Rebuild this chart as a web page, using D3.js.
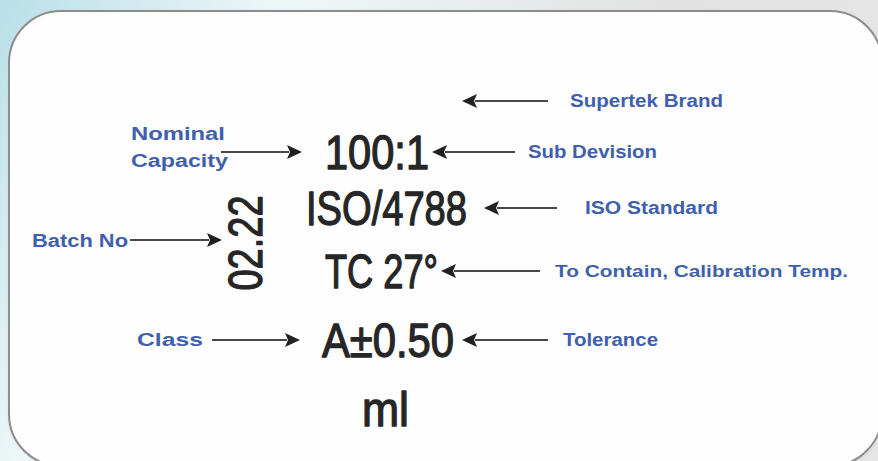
<!DOCTYPE html>
<html>
<head>
<meta charset="utf-8">
<script src="https://cdn.jsdelivr.net/npm/d3@7"></script>
<style>
  html, body { margin: 0; padding: 0; background: #ffffff; }
  svg { display: block; }
</style>
</head>
<body>
<svg id="chart" width="878" height="461"></svg>
<script>
// rows of the marking, top to bottom
var rows = ["brand", "capacity", "iso", "temp", "class", "unit"];

// what is printed on the glass
var markText = [null, "100:1", "ISO/4788", "TC 27°", "A±0.50", "ml"];

// callouts on the right
var rightNotes = ["Supertek Brand", "Sub Devision", "ISO Standard", "To Contain, Calibration Temp.", "Tolerance", null];

// callouts on the left
var leftNotes = [null, ["Nominal", "Capacity"], null, null, ["Class"], null];

var batchNo = "02.22";
var batchLabel = "Batch No";

var blue = "#3f60ad";
var ink = "#262626";
var arrowColor = "#484848";

var W = 878, H = 461;

var svg = d3.select("#chart");

// ----- layout -----
var y = d3.scaleOrdinal().domain(rows).range([101, 152, 208, 271, 340, 409]);

// per row: where the big text sits and how wide it is
var markX = d3.scaleOrdinal().domain(rows).range([0, 325, 306, 325, 322, 362]);
var markW = d3.scaleOrdinal().domain(rows).range([0, 104, 161, 113, 132, 47]);

// right arrows: tip, tail, label start, label width
var rTip = d3.scaleOrdinal().domain(rows).range([462, 432, 484, 441, 462, 0]);
var rTail = d3.scaleOrdinal().domain(rows).range([548, 515, 557, 540, 548, 0]);
var rLabX = d3.scaleOrdinal().domain(rows).range([570, 528, 585, 555, 563, 0]);
var rLabW = d3.scaleOrdinal().domain(rows).range([153, 129, 133, 293, 95, 0]);

// left arrows
var lTail = d3.scaleOrdinal().domain(rows).range([0, 221, 0, 0, 212, 0]);
var lTip = d3.scaleOrdinal().domain(rows).range([0, 302, 0, 0, 300, 0]);
var lLabX = d3.scaleOrdinal().domain(rows).range([0, 131, 0, 0, 137, 0]);
var lLabW = d3.scaleOrdinal().domain(rows).range([0, 94, 0, 0, 66, 0]);

var markFont = "'Liberation Sans Narrow', 'Arial Narrow', 'Liberation Sans', Arial, sans-serif";
var noteFont = "'Liberation Sans', Arial, sans-serif";

// ----- background -----
var defs = svg.append("defs");

var bgGrad = defs.append("linearGradient")
    .attr("id", "bg").attr("x1", "0").attr("y1", "0").attr("x2", "1").attr("y2", "0.3");
bgGrad.append("stop").attr("offset", "0").attr("stop-color", "#b9dfe8");
bgGrad.append("stop").attr("offset", "0.3").attr("stop-color", "#eef7f8");
bgGrad.append("stop").attr("offset", "0.7").attr("stop-color", "#e2e2e2");
bgGrad.append("stop").attr("offset", "1").attr("stop-color", "#e6e6e6");

svg.append("rect").attr("width", W).attr("height", H).attr("fill", "url(#bg)");

var shadow = defs.append("filter").attr("id", "soft")
    .attr("x", "-5%").attr("y", "-5%").attr("width", "110%").attr("height", "110%");
shadow.append("feGaussianBlur").attr("stdDeviation", 2);

// the label card
var box = {x: 9, y: 11, w: 873, h: 455, r: 52};

svg.append("rect")
    .attr("x", box.x + 1).attr("y", box.y + 1)
    .attr("width", box.w).attr("height", box.h)
    .attr("rx", box.r).attr("ry", box.r)
    .attr("fill", "#cfcfcf")
    .attr("filter", "url(#soft)");

svg.append("rect")
    .attr("x", box.x).attr("y", box.y)
    .attr("width", box.w).attr("height", box.h)
    .attr("rx", box.r).attr("ry", box.r)
    .attr("fill", "#fefefe")
    .attr("stroke", "#8c8c8c")
    .attr("stroke-width", 2);

// ----- arrows -----
function arrow(tail, tip, yy) {
    var dir = tip > tail ? 1 : -1;
    var headLen = 15, half = 7;
    var g = svg.append("g").attr("class", "arrow");
    g.append("line")
        .attr("x1", tail).attr("y1", yy)
        .attr("x2", tip - dir * headLen + dir * 2).attr("y2", yy)
        .attr("stroke", arrowColor)
        .attr("stroke-width", 2.2);
    g.append("path")
        .attr("d", d3.line()([
            [tip, yy],
            [tip - dir * headLen, yy - half],
            [tip - dir * headLen + dir * 3, yy],
            [tip - dir * headLen, yy + half]
        ]) + "Z")
        .attr("fill", "#222");
}

// ----- big marking text -----
function mark(sel) {
    return sel
        .attr("lengthAdjust", "spacingAndGlyphs")
        .style("font-family", markFont)
        .style("font-size", "48px")
        .attr("fill", ink)
        .attr("stroke", ink)
        .attr("stroke-width", 1.3)
        .attr("stroke-linejoin", "round");
}

rows.forEach(function(r, i) {
    if (!markText[i]) return;
    svg.append("text")
        .attr("x", markX(r))
        .attr("y", y(r))
        .attr("dy", "0.36em")
        .attr("textLength", markW(r))
        .call(mark)
        .text(markText[i]);
});

// batch number, turned on its side
svg.append("text")
    .attr("transform", "translate(245,243) rotate(-90)")
    .attr("text-anchor", "middle")
    .attr("dy", "0.36em")
    .attr("textLength", 95)
    .call(mark)
    .text(batchNo);

// ----- right callouts -----
rows.forEach(function(r, i) {
    if (!rightNotes[i]) return;
    arrow(rTail(r), rTip(r), y(r));
    svg.append("text")
        .attr("x", rLabX(r))
        .attr("y", y(r))
        .attr("dy", "0.36em")
        .attr("textLength", rLabW(r))
        .attr("lengthAdjust", "spacingAndGlyphs")
        .style("font-family", noteFont)
        .style("font-weight", "bold")
        .style("font-size", i == 3 ? "17px" : "18px")
        .attr("fill", blue)
        .text(rightNotes[i]);
});

// ----- left callouts -----
rows.forEach(function(r, i) {
    if (!leftNotes[i]) return;
    arrow(lTail(r), lTip(r), y(r));
    var lines = leftNotes[i];
    var lh = 27;
    var y0 = lines.length > 1 ? y(r) - 18 : y(r);
    lines.forEach(function(s, k) {
        svg.append("text")
            .attr("x", lLabX(r))
            .attr("y", y0 + k * lh)
            .attr("dy", "0.36em")
            .attr("textLength", k == 1 ? lLabW(r) + 3 : lLabW(r))
            .attr("lengthAdjust", "spacingAndGlyphs")
            .style("font-family", noteFont)
            .style("font-weight", "bold")
            .style("font-size", "18px")
            .attr("fill", blue)
            .text(s);
    });
});

// batch callout
arrow(130, 222, 240);
svg.append("text")
    .attr("x", 32)
    .attr("y", 241)
    .attr("dy", "0.36em")
    .attr("textLength", 96)
    .attr("lengthAdjust", "spacingAndGlyphs")
    .style("font-family", noteFont)
    .style("font-weight", "bold")
    .style("font-size", "18px")
    .attr("fill", blue)
    .text(batchLabel);
</script>
</body>
</html>
